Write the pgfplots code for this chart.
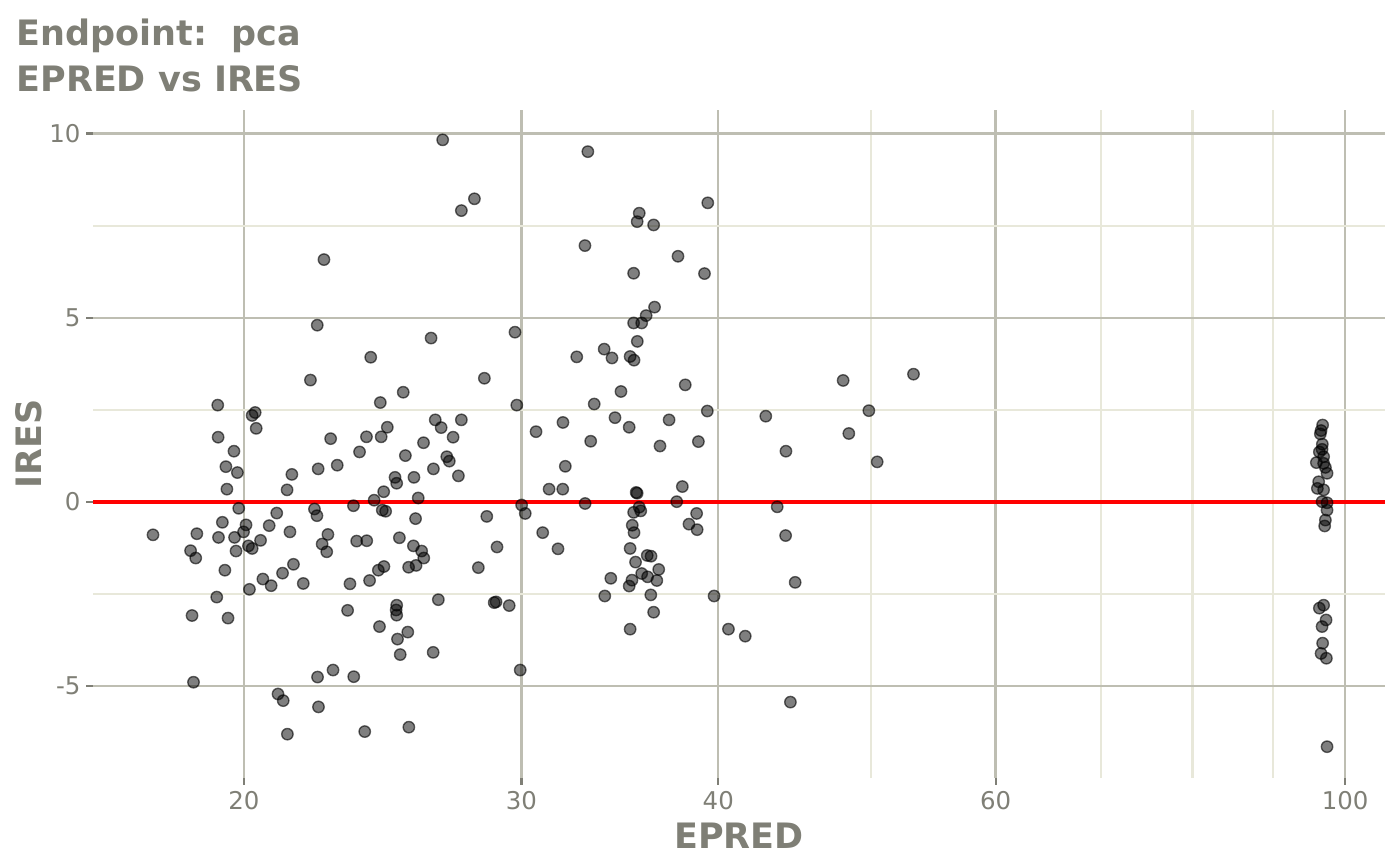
\documentclass[border=0pt]{standalone}
\usepackage{fontspec}
\setmainfont{DejaVu Sans}
\usepackage{pgfplots}
\pgfplotsset{compat=1.18}
\usepackage{pgfplotstable}

\definecolor{txtgrey}{RGB}{127,127,118}
\definecolor{majgrid}{RGB}{190,190,178}
\definecolor{mingrid}{RGB}{232,232,218}

% EPRED vs IRES
\pgfplotstableread{
epred ires
22.48 6.58
22.26 4.80
24.07 3.93
22.04 3.31
19.25 2.63
20.33 2.43
20.24 2.35
20.36 2.00
24.41 2.70
19.26 1.76
19.71 1.38
19.48 0.96
19.81 0.80
19.51 0.35
21.45 0.75
21.30 0.33
22.29 0.90
22.70 1.72
22.92 1.00
23.68 1.36
23.92 1.77
24.44 1.77
24.66 2.03
24.53 0.28
24.19 0.05
19.85 -0.17
20.98 -0.30
22.17 -0.19
22.25 -0.37
23.47 -0.10
24.48 -0.22
24.60 -0.25
17.51 -0.89
18.67 -0.86
19.27 -0.96
19.38 -0.55
19.73 -0.96
19.99 -0.81
20.06 -0.62
20.13 -1.19
20.24 -1.26
20.49 -1.04
20.75 -0.64
21.39 -0.81
22.61 -0.88
22.42 -1.14
22.57 -1.35
23.58 -1.06
23.93 -1.05
18.50 -1.32
18.64 -1.52
19.77 -1.33
19.45 -1.85
21.50 -1.69
21.16 -1.93
20.56 -2.09
20.81 -2.27
21.81 -2.21
20.16 -2.37
23.35 -2.22
24.03 -2.13
24.34 -1.85
24.54 -1.75
19.22 -2.58
18.54 -3.08
19.54 -3.15
23.27 -2.94
24.38 -3.38
22.27 -4.75
22.78 -4.56
23.48 -4.74
18.58 -4.89
21.02 -5.21
21.18 -5.39
22.30 -5.56
21.31 -6.30
23.86 -6.23
26.74 9.83
33.06 9.51
28.01 8.23
27.48 7.91
35.64 7.84
35.53 7.61
36.40 7.52
32.92 6.96
35.35 6.21
36.45 5.29
36.00 5.06
35.35 4.86
35.77 4.86
29.72 4.61
26.29 4.45
35.54 4.36
33.86 4.15
32.53 3.94
34.25 3.91
35.17 3.95
35.37 3.85
28.42 3.36
25.24 2.98
34.70 3.00
29.80 2.63
33.37 2.66
26.45 2.23
26.68 2.02
27.48 2.23
27.15 1.76
26.00 1.61
25.32 1.26
26.90 1.23
27.00 1.11
26.38 0.90
25.64 0.67
24.94 0.67
25.00 0.51
27.36 0.71
25.80 0.11
30.65 1.91
31.88 2.16
34.40 2.29
35.12 2.03
33.20 1.65
31.99 0.97
31.24 0.35
31.87 0.35
35.48 0.26
35.53 0.24
32.93 -0.04
25.70 -0.45
28.52 -0.39
30.01 -0.08
30.17 -0.31
35.64 -0.14
35.35 -0.28
35.72 -0.24
25.10 -0.97
25.62 -1.19
25.93 -1.33
26.01 -1.52
25.44 -1.77
25.72 -1.72
28.95 -1.22
28.17 -1.78
30.95 -0.83
31.65 -1.27
35.28 -0.63
35.37 -0.83
35.17 -1.26
36.06 -1.45
36.26 -1.47
35.45 -1.63
35.77 -1.94
36.08 -2.03
36.67 -1.83
36.57 -2.13
35.26 -2.12
35.12 -2.28
34.19 -2.07
33.89 -2.55
36.25 -2.52
36.40 -2.99
35.17 -3.45
26.57 -2.65
28.83 -2.73
28.91 -2.71
29.47 -2.81
25.00 -2.80
24.98 -2.93
25.00 -3.07
25.41 -3.53
25.03 -3.72
25.13 -4.14
26.37 -4.08
29.95 -4.56
25.45 -6.11
39.40 8.12
37.72 6.67
39.21 6.20
38.12 3.18
39.37 2.47
37.23 2.23
36.74 1.52
38.86 1.64
37.96 0.42
37.65 0.01
38.76 -0.31
38.33 -0.60
38.79 -0.75
42.88 2.33
44.16 1.38
43.60 -0.13
48.01 3.30
49.85 2.48
48.41 1.86
50.46 1.09
53.21 3.47
39.76 -2.55
40.60 -3.45
41.61 -3.64
44.14 -0.91
44.76 -2.18
44.45 -5.43
96.76 2.09
96.54 1.94
96.44 1.85
96.68 1.43
96.72 1.57
96.30 1.36
96.90 1.23
95.88 1.07
96.90 1.05
97.15 0.94
97.39 0.78
96.20 0.55
96.02 0.37
96.90 0.33
96.68 0.01
97.39 -0.02
97.39 -0.22
97.15 -0.49
97.05 -0.65
96.30 -2.88
96.90 -2.80
97.25 -3.20
96.68 -3.38
96.76 -3.83
96.54 -4.11
97.29 -4.24
97.39 -6.64
}\pcadata

\begin{document}
\begin{tikzpicture}
\begin{axis}[
    name=ax,
    scale only axis,
    width=465.12pt,
    height=240.48pt,
    xmode=log,
    xmin=16.04, xmax=106.0,
    ymin=-7.49, ymax=10.64,
    axis x line*=bottom,
    axis y line*=left,
    axis line style={draw=none},
    xtick={20,30,40,60,100},
    xticklabels={20,30,40,60,100},
    minor xtick={50,70,80,90},
    ytick={-5,0,5,10},
    yticklabels={-5,0,5,10},
    minor ytick={-2.5,2.5,7.5},
    grid=both,
    major grid style={color=majgrid, line width=0.85pt},
    minor grid style={color=mingrid, line width=0.75pt},
    tick align=outside,
    major tick length=2.5pt,
    minor tick length=0pt,
    tick style={color=txtgrey, line width=0.8pt},
    ticklabel style={font=\fontsize{8.8}{10}\selectfont, text=txtgrey},
    xticklabel style={inner sep=1pt, yshift=-1.2pt},
    yticklabel style={inner sep=1pt, xshift=-0.8pt},
    clip=false,
]
\addplot[only marks, mark=*, mark size=2.05pt,
    mark options={fill=black, fill opacity=0.5, draw=black, draw opacity=0.6, line width=0.5pt}]
    table[x=epred, y=ires] {\pcadata};
\addplot[color=red, line width=1.2pt] coordinates {(16.04,0) (106.0,0)};
\end{axis}
\node[anchor=base west, inner sep=0pt, font=\fontsize{12.6}{15}\selectfont\bfseries, text=txtgrey]
    at ([xshift=-27.72pt, yshift=23.4pt]ax.north west) {Endpoint:\ \ pca};
\node[anchor=base west, inner sep=0pt, font=\fontsize{12.6}{15}\selectfont\bfseries, text=txtgrey]
    at ([xshift=-27.72pt, yshift=6.84pt]ax.north west) {EPRED vs IRES};
\node[anchor=base, inner sep=0pt, font=\fontsize{12.6}{15}\selectfont\bfseries, text=txtgrey]
    at ([yshift=-25.2pt]ax.south) {EPRED};
\node[anchor=base, inner sep=0pt, rotate=90, font=\fontsize{12.6}{15}\selectfont\bfseries, text=txtgrey]
    at ([xshift=-18.4pt]ax.west) {IRES};
\pgfresetboundingbox
\path[use as bounding box] ([xshift=-33.48pt, yshift=-31.32pt]ax.south west)
    rectangle ([xshift=5.4pt, yshift=39.6pt]ax.north east);
\end{tikzpicture}
\end{document}
